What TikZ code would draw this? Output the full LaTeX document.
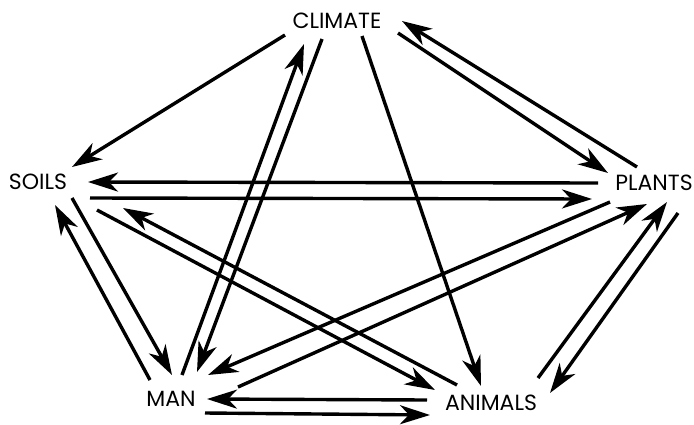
\documentclass[tikz,border=0pt]{standalone}
\usepackage{fontspec}
\setmainfont{Poppins}
\usetikzlibrary{arrows.meta}
\begin{document}
\begin{tikzpicture}[x=1pt,y=-1pt,
  lbl/.style={inner sep=0pt,font=\fontsize{22}{22}\selectfont},
  arr/.style={line width=3.4pt,-{Stealth[length=30pt,width=19pt,inset=9pt]}}]
\useasboundingbox (0,0) rectangle (694,424);
\node[lbl] (climate) at (337,21) {CLIMATE};
\node[lbl] (soils) at (38,182) {SOILS};
\node[lbl] (plants) at (654,183) {PLANTS};
\node[lbl] (man) at (171,399) {MAN};
\node[lbl] (animals) at (491,403) {ANIMALS};
% climate
\draw[arr] ([shift={(-52,14)}]climate.center) -- ([shift={(34,-15)}]soils.center);
\draw[arr] ([shift={(-17,-16)}]plants.center) -- ([shift={(65,0)}]climate.center);
\draw[arr] ([shift={(61,12)}]climate.center) -- ([shift={(-46,-10)}]plants.center);
\draw[arr] ([shift={(25,15)}]climate.center) -- ([shift={(-10,-17)}]animals.center);
\draw[arr] ([shift={(11,-24)}]man.center) -- ([shift={(-33,23)}]climate.center);
\draw[arr] ([shift={(-15,18)}]climate.center) -- ([shift={(26,-27)}]man.center);
% soils
\draw[arr] ([shift={(-56,0)}]plants.center) -- ([shift={(50,0)}]soils.center);
\draw[arr] ([shift={(52,16)}]soils.center) -- ([shift={(-62,16)}]plants.center);
\draw[arr] ([shift={(-21,-19)}]man.center) -- ([shift={(17,23)}]soils.center);
\draw[arr] ([shift={(34,16)}]soils.center) -- ([shift={(1,-24)}]man.center);
\draw[arr] ([shift={(-34,-18)}]animals.center) -- ([shift={(85,26)}]soils.center);
\draw[arr] ([shift={(59,28)}]soils.center) -- ([shift={(-56,-13)}]animals.center);
% plants
\draw[arr] ([shift={(-44,19)}]plants.center) -- ([shift={(37,-24)}]man.center);
\draw[arr] ([shift={(67,-12)}]man.center) -- ([shift={(-7,21)}]plants.center);
\draw[arr] ([shift={(47,-25)}]animals.center) -- ([shift={(13,19)}]plants.center);
\draw[arr] ([shift={(24,30)}]plants.center) -- ([shift={(59,-10)}]animals.center);
% man - animals
\draw[arr] ([shift={(-64,-3)}]animals.center) -- ([shift={(36,0)}]man.center);
\draw[arr] ([shift={(34,14)}]man.center) -- ([shift={(-61,12)}]animals.center);
\end{tikzpicture}
\end{document}
